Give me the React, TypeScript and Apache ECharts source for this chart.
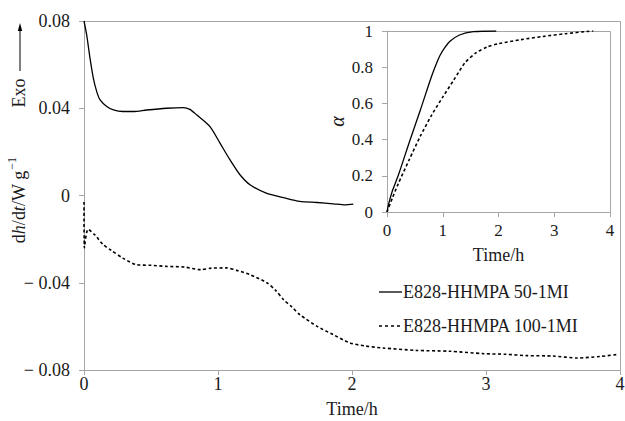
import React, { useEffect, useRef } from "react";
import * as echarts from "echarts";

// Main plot: heat flow vs time
const mainSolidT = [0, 0.02, 0.045, 0.07, 0.095, 0.12, 0.17, 0.22, 0.29, 0.368, 0.468, 0.617, 0.74, 0.79, 0.84, 0.94, 1.015, 1.09, 1.164, 1.239, 1.36, 1.49, 1.61, 1.74, 1.86, 1.95, 2.01];
const mainSolidV = [0.08, 0.0736, 0.0629, 0.0537, 0.0476, 0.0438, 0.0408, 0.0392, 0.0385, 0.0385, 0.0392, 0.04, 0.0403, 0.0395, 0.037, 0.0316, 0.024, 0.0163, 0.0095, 0.0049, 0.0011, -0.001, -0.0027, -0.0032, -0.0038, -0.0043, -0.004];

const mainDashT = [0, 0.003, 0.03, 0.08, 0.144, 0.2, 0.29, 0.39, 0.5, 0.617, 0.75, 0.87, 0.95, 1.065, 1.15, 1.24, 1.365, 1.43, 1.49, 1.55, 1.61, 1.74, 1.86, 1.985, 2.1, 2.23, 2.48, 2.73, 2.98, 3.15, 3.3, 3.5, 3.68, 3.85, 3.98];
const mainDashV = [-0.003, -0.024, -0.0155, -0.018, -0.0226, -0.025, -0.0287, -0.0317, -0.032, -0.0325, -0.0328, -0.034, -0.0333, -0.0332, -0.0345, -0.0363, -0.04, -0.0435, -0.0478, -0.051, -0.0546, -0.06, -0.0638, -0.0676, -0.069, -0.0699, -0.071, -0.0714, -0.0725, -0.0728, -0.0734, -0.0736, -0.0745, -0.0738, -0.0729];

// Inset: conversion vs time
const insetSolidT = [0, 0.03, 0.1, 0.2, 0.4, 0.6, 0.8, 0.9, 0.95, 1.03, 1.13, 1.3, 1.55, 1.96];
const insetSolidA = [0, 0.045, 0.12, 0.2, 0.385, 0.565, 0.75, 0.83, 0.865, 0.905, 0.943, 0.978, 0.996, 1.0];

const insetDashT = [0, 0.1, 0.2, 0.4, 0.6, 0.8, 1.0, 1.2, 1.4, 1.6, 1.8, 2.0, 2.4, 2.8, 3.2, 3.6, 3.7];
const insetDashA = [0, 0.08, 0.155, 0.29, 0.42, 0.535, 0.635, 0.73, 0.825, 0.88, 0.912, 0.93, 0.952, 0.97, 0.985, 0.998, 1.0];

const seriesNames = ["E828-HHMPA 50-1MI", "E828-HHMPA 100-1MI"];

const zip = (a: number[], b: number[]) => a.map((x, i) => [x, b[i]]);

const FONT = "Liberation Serif";
const GREY = "#a6a6a6";
const TXT = "#1a1a1a";
const G0 = { left: 84, top: 21, width: 536, height: 349 };
const G1 = { left: 387, top: 31, width: 223, height: 181 };

export default function App() {
  const ref = useRef<HTMLDivElement>(null);
  useEffect(() => {
    if (!ref.current) return;
    const chart = echarts.init(ref.current, undefined, { renderer: "svg" });
    const axisCommon = {
      axisLine: { show: true, onZero: false, lineStyle: { color: GREY, width: 1 } },
      axisTick: { show: true, inside: false, length: 5, lineStyle: { color: GREY } },
      splitLine: { show: false },
    };
    const lineSeries = (name: string, xi: number, data: number[][], dashed: boolean) => ({
      name, type: "line", xAxisIndex: xi, yAxisIndex: xi,
      data, showSymbol: false, smooth: 0.25, z: 3,
      lineStyle: dashed ? { color: "#000", width: 1.6, type: [3, 2.5] } : { color: "#000", width: 1.3 },
    });
    const frameLines = (g: typeof G0) => {
      const l = g.left, t = g.top + 0.5, r = g.left + g.width + 0.5, b = g.top + g.height;
      return [
        { type: "line", shape: { x1: l, y1: t, x2: r, y2: t }, style: { stroke: GREY, lineWidth: 1 } },
        { type: "line", shape: { x1: r, y1: t, x2: r, y2: b }, style: { stroke: GREY, lineWidth: 1 } },
      ];
    };
    chart.setOption({
      animation: false,
      backgroundColor: "#fff",
      grid: [
        { ...G0, outerBoundsMode: "none", containLabel: false },
        { ...G1, outerBoundsMode: "none", containLabel: false, show: true, borderWidth: 0, backgroundColor: "#fff" },
      ],
      xAxis: [
        {
          ...axisCommon,
          type: "value", gridIndex: 0, min: 0, max: 4, interval: 1,
          axisLabel: { margin: 5, fontFamily: FONT, fontSize: 18, color: TXT },
          name: "Time/h", nameLocation: "middle", nameGap: 30,
          nameTextStyle: { fontFamily: FONT, fontSize: 18, color: TXT },
        },
        {
          ...axisCommon,
          type: "value", gridIndex: 1, min: 0, max: 4, interval: 1,
          axisLabel: { margin: 10, fontFamily: FONT, fontSize: 17, color: TXT },
          name: "Time/h", nameLocation: "middle", nameGap: 34,
          nameTextStyle: { fontFamily: FONT, fontSize: 18, color: TXT },
        },
      ],
      yAxis: [
        {
          ...axisCommon,
          type: "value", gridIndex: 0, min: -0.08, max: 0.08, interval: 0.04,
          axisLabel: {
            margin: 14, fontFamily: FONT, fontSize: 18, color: TXT,
            formatter: (v: number) => Math.abs(v) < 1e-9 ? "0" : v < 0 ? "\u2212 " + Math.abs(v).toFixed(2) : v.toFixed(2),
          },
        },
        {
          ...axisCommon,
          type: "value", gridIndex: 1, min: 0, max: 1, interval: 0.2,
          axisLabel: {
            margin: 14, fontFamily: FONT, fontSize: 17, color: TXT,
            formatter: (v: number) => (Math.abs(v) < 1e-9 ? "0" : Math.abs(v - 1) < 1e-9 ? "1" : v.toFixed(1)),
          },
          name: "\u03b1", nameLocation: "middle", nameGap: 40, nameRotate: 90,
          nameTextStyle: { fontFamily: FONT, fontSize: 20, fontStyle: "italic", color: TXT },
        },
      ],
      series: [
        lineSeries(seriesNames[0], 0, zip(mainSolidT, mainSolidV), false),
        lineSeries(seriesNames[1], 0, zip(mainDashT, mainDashV), true),
        lineSeries(seriesNames[0], 1, zip(insetSolidT, insetSolidA), false),
        lineSeries(seriesNames[1], 1, zip(insetDashT, insetDashA), true),
      ],
      graphic: [
        ...frameLines(G0),
        ...frameLines(G1),
        // y-axis title
        {
          type: "text", x: 17, y: 200, rotation: Math.PI / 2,
          style: {
            text: "{n|d}{i|h}{n|/d}{i|t}{n|/W g}{s|\u22121}",
            align: "center", verticalAlign: "middle", fill: TXT,
            rich: {
              n: { fontFamily: FONT, fontSize: 18, fill: TXT, lineHeight: 22, verticalAlign: "bottom" },
              i: { fontFamily: FONT, fontSize: 18, fontStyle: "italic", fill: TXT, lineHeight: 22, verticalAlign: "bottom" },
              s: { fontFamily: FONT, fontSize: 12, fill: TXT, lineHeight: 22, verticalAlign: "top", padding: [0, 0, 0, 1] },
            },
          },
        },
        // Exo arrow
        {
          type: "text", x: 19, y: 93, rotation: Math.PI / 2,
          style: { text: "Exo", fontFamily: FONT, fontSize: 18, fill: TXT, align: "center", verticalAlign: "middle" },
        },
        { type: "line", shape: { x1: 20, y1: 71, x2: 20, y2: 30 }, style: { stroke: "#000", lineWidth: 1 } },
        { type: "polygon", shape: { points: [[20, 23], [17.8, 31], [22.2, 31]] }, style: { fill: "#000" } },
        // legend
        { type: "line", shape: { x1: 379, y1: 292, x2: 402, y2: 292 }, style: { stroke: "#000", lineWidth: 1.3 } },
        {
          type: "text", x: 403, y: 292,
          style: { text: seriesNames[0], fontFamily: FONT, fontSize: 18, fill: TXT, align: "left", verticalAlign: "middle" },
        },
        { type: "line", shape: { x1: 379, y1: 326, x2: 402, y2: 326 }, style: { stroke: "#000", lineWidth: 1.5, lineDash: [3, 3] } },
        {
          type: "text", x: 403, y: 326,
          style: { text: seriesNames[1], fontFamily: FONT, fontSize: 18, fill: TXT, align: "left", verticalAlign: "middle" },
        },
      ],
    });
    return () => chart.dispose();
  }, []);
  return <div ref={ref} style={{ width: 625, height: 421, position: "absolute", left: 0, top: 0 }} />;
}
